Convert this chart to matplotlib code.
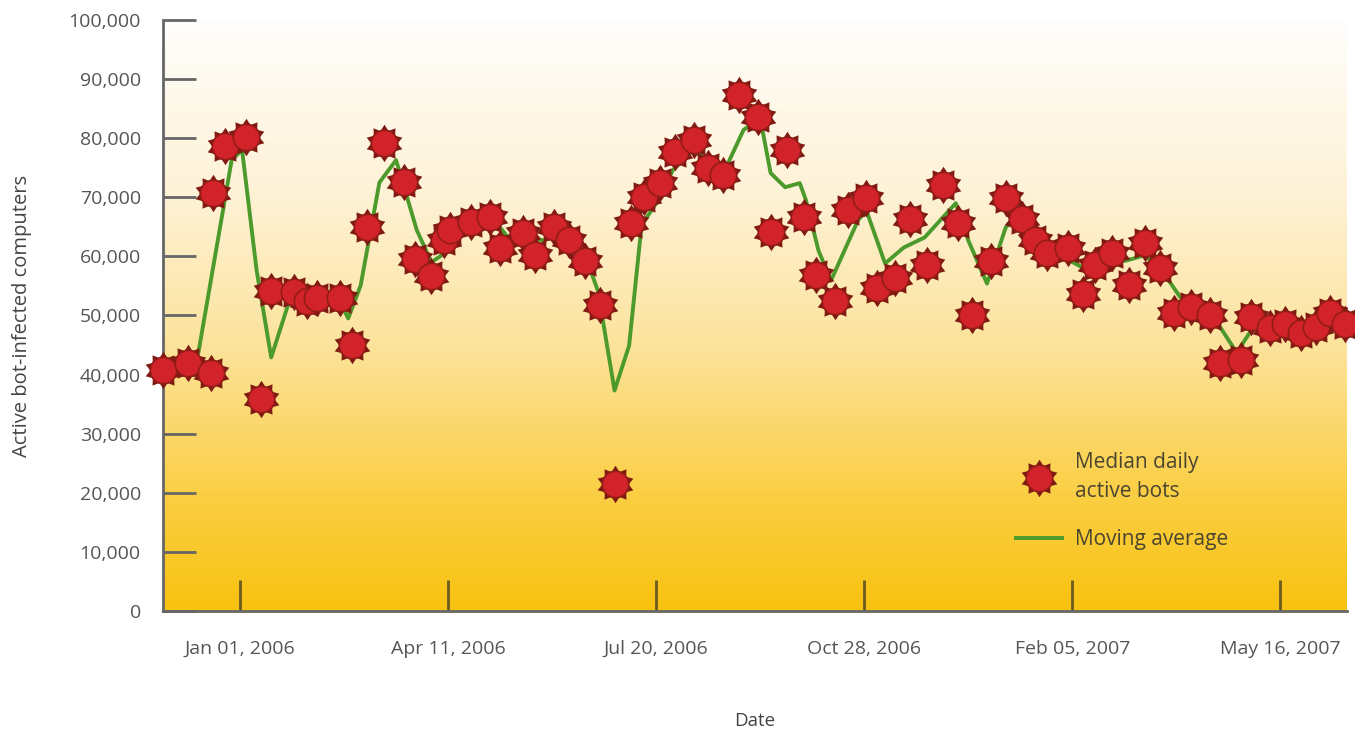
import numpy as np
import pandas as pd
import matplotlib
matplotlib.use("Agg")
import matplotlib.pyplot as plt
import matplotlib.dates as mdates
from matplotlib.colors import LinearSegmentedColormap
from matplotlib.lines import Line2D
from matplotlib.path import Path
from matplotlib.legend_handler import HandlerTuple

plt.rcParams['font.family'] = ['Open Sans', 'DejaVu Sans']

# median daily active bots (weekly samples)
bot_dates = [
    '2005-11-25', '2005-12-07', '2005-12-18', '2005-12-19', '2005-12-25', '2006-01-04',
    '2006-01-11', '2006-01-16', '2006-01-27', '2006-02-02', '2006-02-07', '2006-02-18',
    '2006-02-24', '2006-03-03', '2006-03-11', '2006-03-21', '2006-03-26', '2006-04-03',
    '2006-04-09', '2006-04-12', '2006-04-22', '2006-05-01', '2006-05-06', '2006-05-17',
    '2006-05-23', '2006-06-01', '2006-06-08', '2006-06-16', '2006-06-23', '2006-06-30',
    '2006-07-08', '2006-07-14', '2006-07-22', '2006-07-29', '2006-08-07', '2006-08-14',
    '2006-08-21', '2006-08-29', '2006-09-07', '2006-09-13', '2006-09-21', '2006-09-29',
    '2006-10-05', '2006-10-14', '2006-10-20', '2006-10-29', '2006-11-03', '2006-11-12',
    '2006-11-19', '2006-11-27', '2006-12-05', '2006-12-12', '2006-12-19', '2006-12-28',
    '2007-01-04', '2007-01-12', '2007-01-18', '2007-01-24', '2007-02-03', '2007-02-10',
    '2007-02-16', '2007-02-24', '2007-03-04', '2007-03-12', '2007-03-19', '2007-03-26',
    '2007-04-03', '2007-04-12', '2007-04-17', '2007-04-27', '2007-05-02', '2007-05-11',
    '2007-05-18', '2007-05-26', '2007-06-02', '2007-06-09', '2007-06-16',
]
bot_counts = [
    40700, 42000, 40200, 70800, 78600, 80200,
    35800, 54200, 54000, 52500, 53000, 52900,
    45000, 65000, 79200, 72500, 59500, 56600,
    62700, 64400, 65800, 66600, 61500, 63900,
    60200, 64900, 62700, 59300, 51700, 21500,
    65600, 70000, 72400, 77600, 79700, 74900,
    73700, 87300, 83600, 64100, 78000, 66600,
    56800, 52500, 67800, 69800, 54700, 56300,
    66400, 58500, 72000, 65600, 50000, 59300,
    69800, 66400, 62700, 60500, 61400, 53700,
    58500, 60500, 55100, 62200, 58100, 50500,
    51400, 50000, 42000, 42400, 49700, 47800,
    48600, 47100, 48000, 50500, 48600,
]

# moving average
ma_dates = [
    '2005-11-25', '2005-12-07', '2005-12-12', '2005-12-28', '2006-01-02', '2006-01-09',
    '2006-01-16', '2006-01-24', '2006-01-29', '2006-02-08', '2006-02-18', '2006-02-22',
    '2006-02-28', '2006-03-09', '2006-03-17', '2006-03-27', '2006-04-03', '2006-04-10',
    '2006-04-17', '2006-04-26', '2006-05-04', '2006-05-10', '2006-05-20', '2006-05-27',
    '2006-06-03', '2006-06-10', '2006-06-17', '2006-06-22', '2006-06-30', '2006-07-07',
    '2006-07-13', '2006-07-21', '2006-07-28', '2006-08-07', '2006-08-15', '2006-08-22',
    '2006-08-31', '2006-09-08', '2006-09-13', '2006-09-20', '2006-09-27', '2006-09-30',
    '2006-10-06', '2006-10-12', '2006-10-25', '2006-10-29', '2006-11-07', '2006-11-16',
    '2006-11-26', '2006-12-11', '2006-12-17', '2006-12-26', '2007-01-04', '2007-01-09',
    '2007-01-23', '2007-02-10', '2007-02-21', '2007-03-03', '2007-03-12', '2007-03-21',
    '2007-03-31', '2007-04-10', '2007-04-16', '2007-04-25', '2007-05-02', '2007-05-11',
    '2007-05-19', '2007-05-26', '2007-06-02', '2007-06-09', '2007-06-17',
]
ma_counts = [
    40300, 41500, 43700, 76300, 78000, 57600,
    42900, 51700, 53200, 53200, 52500, 49500,
    55100, 72500, 76300, 64400, 59000, 60700,
    63400, 65400, 65800, 63100, 63100, 62700,
    64100, 62400, 59000, 54200, 37300, 44900,
    65300, 69500, 74600, 78000, 75900, 74600,
    81400, 83400, 74100, 71700, 72400, 69500,
    61000, 55900, 66100, 67800, 58800, 61500,
    63200, 69000, 62700, 55400, 64900, 66600,
    61500, 58100, 58800, 59300, 60200, 57100,
    52000, 50300, 48600, 43700, 47500, 48600,
    48000, 47500, 48100, 50000, 48800,
]

tick_dates = ['2006-01-01', '2006-04-11', '2006-07-20', '2006-10-28', '2007-02-05', '2007-05-16']

bot_x = pd.to_datetime(bot_dates)
ma_x = pd.to_datetime(ma_dates)
x0, x1 = pd.Timestamp('2005-11-25'), pd.Timestamp('2007-06-17')

RED = '#D2232B'
DARK = '#7E1A12'
GREEN = '#4C9A2C'
spike = Path.unit_regular_star(10, 0.7)

fig = plt.figure(figsize=(13.55, 7.29), dpi=100)
ax = fig.add_axes([0.1203, 0.1619, 0.8738, 0.8107])

# white-to-gold background
cmap = LinearSegmentedColormap.from_list('gold', [
    (0.0, '#F8C210'), (0.2, '#FBCF45'), (0.45, '#FCE39C'),
    (0.7, '#FEF2D6'), (1.0, '#FFFEFC')])
grad = np.linspace(0, 1, 256).reshape(-1, 1)
ax.imshow(grad, cmap=cmap, origin='lower', aspect='auto', zorder=0,
          extent=[mdates.date2num(x0), mdates.date2num(x1), 0, 100000])

ax.plot(ma_x, ma_counts, color=GREEN, lw=2.8, zorder=3, solid_joinstyle='round')

# spiky red markers: dark star behind a red disc
ax.plot(bot_x, bot_counts, ls='none', marker=spike, ms=27, color=DARK,
        mew=0, zorder=4, clip_on=False)
ax.plot(bot_x, bot_counts, ls='none', marker='o', ms=19, mfc=RED,
        mec='#941C16', mew=1.2, zorder=5, clip_on=False)

ax.set_xlim(x0, x1)
ax.set_ylim(0, 100000)
ax.set_yticks(np.arange(0, 100001, 10000))
ax.yaxis.set_major_formatter(matplotlib.ticker.FuncFormatter(lambda v, p: f'{int(v):,}'))
ax.set_xticks(pd.to_datetime(tick_dates))
ax.xaxis.set_major_formatter(mdates.DateFormatter('%b %d, %Y'))

for s in ['top', 'right']:
    ax.spines[s].set_visible(False)
for s in ['left', 'bottom']:
    ax.spines[s].set_color('#666666')
    ax.spines[s].set_linewidth(2)

ax.tick_params(axis='y', direction='in', length=24, width=2, color='#666666',
               labelsize=14, labelcolor='#555555', pad=16)
ax.tick_params(axis='x', direction='in', length=22, width=2, color='#6b5a20',
               labelsize=14, labelcolor='#555555', pad=21)

ax.set_ylabel('Active bot-infected computers', fontsize=14.5, color='#444444', labelpad=26)
ax.set_xlabel('Date', fontsize=13.5, color='#444444', labelpad=39)

handles = [
    (Line2D([], [], ls='none', marker=spike, ms=27, color=DARK, mew=0),
     Line2D([], [], ls='none', marker='o', ms=19, mfc=RED, mec='#941C16', mew=1.2)),
    Line2D([], [], color=GREEN, lw=2.8),
]
leg = ax.legend(handles, ['Median daily\nactive bots', 'Moving average'],
                handler_map={tuple: HandlerTuple(ndivide=1)},
                loc='lower left', bbox_to_anchor=(0.705, 0.071), frameon=False,
                fontsize=15, labelspacing=1.3, handlelength=2.2, handletextpad=0.6)
for t in leg.get_texts():
    t.set_color('#4a4530')
    t.set_linespacing(1.5)

fig.savefig('out.png', dpi=100)
